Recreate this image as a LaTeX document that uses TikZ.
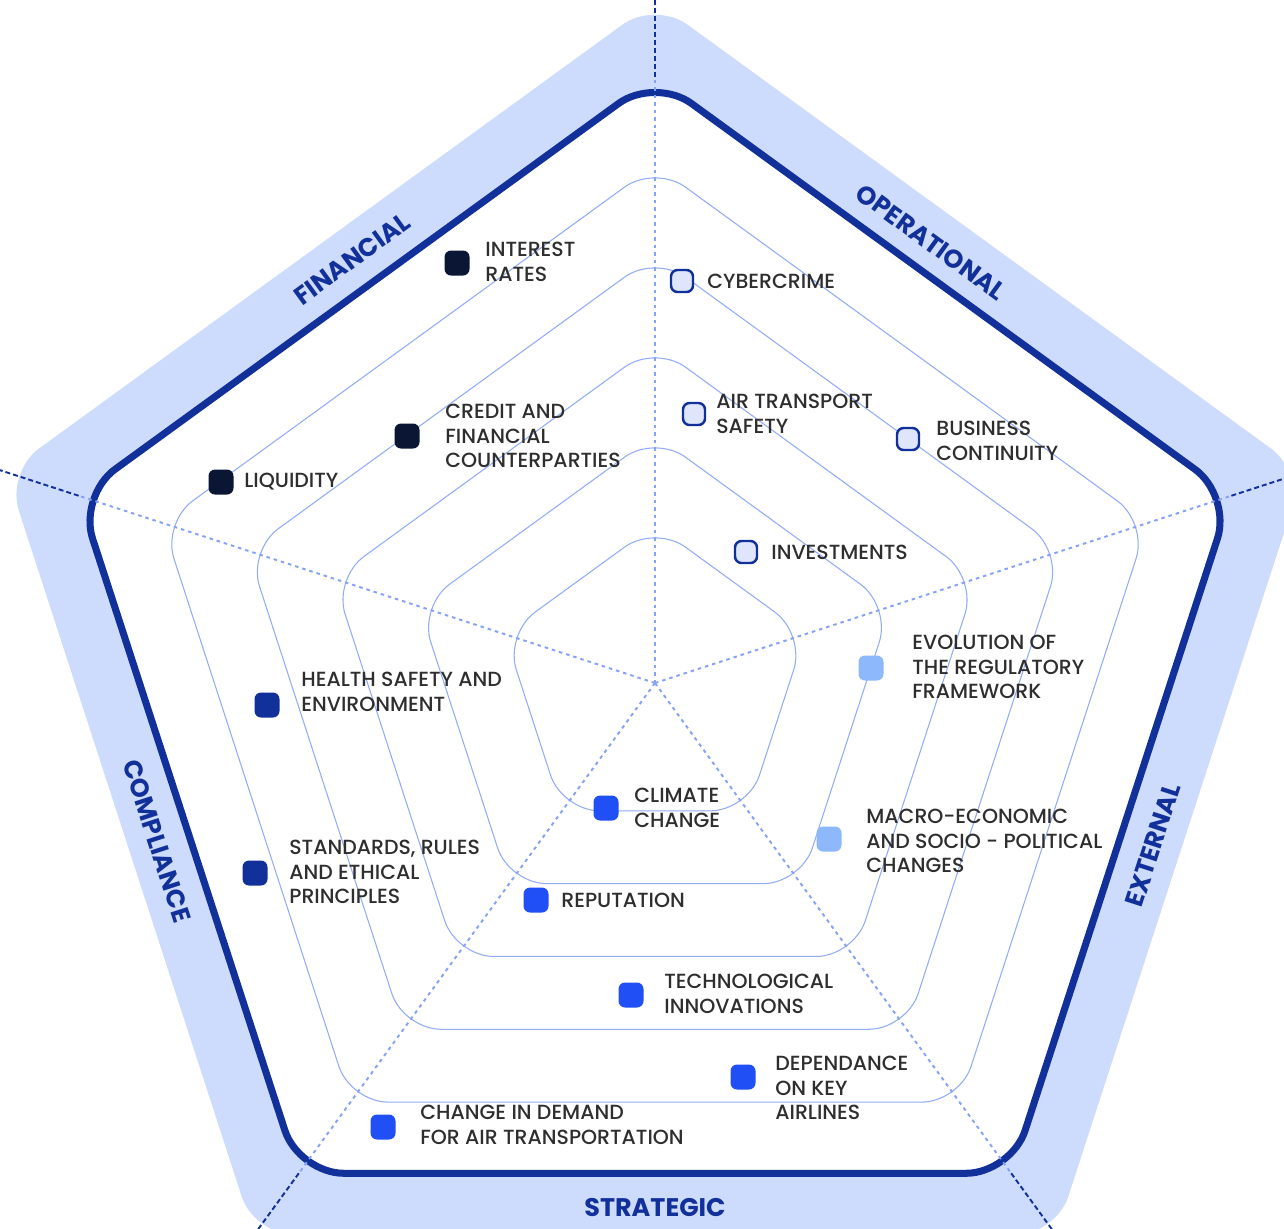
\documentclass[tikz,border=0pt]{standalone}
\usepackage{fontspec}
\setmainfont{Poppins}[UprightFont={* Medium},BoldFont={* Bold}]
\usetikzlibrary{positioning}

\definecolor{bandblue}{HTML}{CDDBFD}
\definecolor{rimblue}{HTML}{12309A}
\definecolor{ringblue}{HTML}{93ACF7}
\definecolor{spokeblue}{HTML}{86A2F4}
\definecolor{txtgrey}{HTML}{2E2E2E}
\definecolor{finnavy}{HTML}{0A1633}
\definecolor{opfill}{HTML}{DFE5FB}
\definecolor{extblue}{HTML}{8DB8FB}
\definecolor{stratblue}{HTML}{1F4FF5}
\definecolor{compblue}{HTML}{12309A}

\tikzset{
  ringline/.style={draw=ringblue, line width=0.6pt, rounded corners=0.75cm},
  spokein/.style={draw=spokeblue, line width=1.1pt, dash pattern=on 0.07cm off 0.08cm},
  spokeout/.style={draw=rimblue, line width=1.1pt, dash pattern=on 0.1cm off 0.06cm},
  riskbox/.style={minimum size=0.5cm, inner sep=0pt, rounded corners=0.13cm},
  opbox/.style={riskbox, minimum size=0.44cm, draw=rimblue, fill=opfill, line width=1.4pt},
  risklabel/.style={anchor=west, inner sep=0pt, align=left, text=txtgrey,
    font=\fontsize{11.65pt}{13.9pt}\selectfont},
  catlabel/.style={text=rimblue, inner sep=0pt,
    font=\fontsize{14.5pt}{16pt}\selectfont\bfseries}
}

\begin{document}
\begin{tikzpicture}[x=0.02cm, y=-0.02cm]
    \useasboundingbox (0,0) rectangle (1284,1228);
    \clip (0,0) rectangle (1284,1228);

    % Band and rim
    \begin{scope}[shift={(655,683)}]
        \fill[bandblue, rounded corners=0.8cm] (-90:682) -- (-18:682) -- (54:682) -- (126:682) -- (198:682) -- cycle;
        \filldraw[fill=white, draw=rimblue, line width=4pt, rounded corners=0.9cm]
            (-90:606) -- (-18:606) -- (54:606) -- (126:606) -- (198:606) -- cycle;

        % Rings
        \foreach \r in {158,248,338,428,518}
            \draw[ringline] (-90:\r) -- (-18:\r) -- (54:\r) -- (126:\r) -- (198:\r) -- cycle;

        % Spokes
        \coordinate (c) at (0,0);
        \foreach \a [count=\i] in {-90,-18,54,126,198} {
            \coordinate (in\i) at (\a:606);
            \coordinate (out\i) at (\a:690);
            \draw[spokein] (c) -- (in\i);
            \draw[spokeout] (in\i) -- (out\i);
        }
    \end{scope}

    % Categories
    \node[catlabel, rotate=36]  (fin)   at (352,259)  {FINANCIAL};
    \node[catlabel, rotate=-36] (oper)  at (931,242)  {OPERATIONAL};
    \node[catlabel, rotate=72]  (ext)   at (1153,845) {EXTERNAL};
    \node[catlabel]             (strat) at (655,1207) {STRATEGIC};
    \node[catlabel, rotate=-72] (comp)  at (157,841)  {COMPLIANCE};

    % Financial
    \node[riskbox, fill=finnavy] (ir) at (457,263) {};
    \node[risklabel] (ir-l) at (485,262) {INTEREST\\RATES};
    \node[riskbox, fill=finnavy] (cfc) at (407,436) {};
    \node[risklabel] (cfc-l) at (445,436) {CREDIT AND\\FINANCIAL\\COUNTERPARTIES};
    \node[riskbox, fill=finnavy] (liq) at (221,482) {};
    \node[risklabel] (liq-l) at (244,482) {LIQUIDITY};

    % Operational
    \node[opbox] (cyb) at (682,281) {};
    \node[risklabel] (cyb-l) at (707,281) {CYBERCRIME};
    \node[opbox] (ats) at (694,414) {};
    \node[risklabel] (ats-l) at (716,414) {AIR TRANSPORT\\SAFETY};
    \node[opbox] (bc) at (908,439) {};
    \node[risklabel] (bc-l) at (936,441) {BUSINESS\\CONTINUITY};
    \node[opbox] (inv) at (746,552) {};
    \node[risklabel] (inv-l) at (771,552) {INVESTMENTS};

    % External
    \node[riskbox, fill=extblue] (reg) at (871,668) {};
    \node[risklabel] (reg-l) at (912,667) {EVOLUTION OF\\THE REGULATORY\\FRAMEWORK};
    \node[riskbox, fill=extblue] (mac) at (829,839) {};
    \node[risklabel] (mac-l) at (866,841) {MACRO-ECONOMIC\\AND SOCIO - POLITICAL\\CHANGES};

    % Compliance
    \node[riskbox, fill=compblue] (hse) at (267,705) {};
    \node[risklabel] (hse-l) at (301,692) {HEALTH SAFETY AND\\ENVIRONMENT};
    \node[riskbox, fill=compblue] (std) at (255,873) {};
    \node[risklabel] (std-l) at (289,872) {STANDARDS, RULES\\AND ETHICAL\\PRINCIPLES};

    % Strategic
    \node[riskbox, fill=stratblue] (clim) at (606,808) {};
    \node[risklabel] (clim-l) at (634,808) {CLIMATE\\CHANGE};
    \node[riskbox, fill=stratblue] (rep) at (536,900) {};
    \node[risklabel] (rep-l) at (561,900) {REPUTATION};
    \node[riskbox, fill=stratblue] (tech) at (631,995) {};
    \node[risklabel] (tech-l) at (664,994) {TECHNOLOGICAL\\INNOVATIONS};
    \node[riskbox, fill=stratblue] (dep) at (743,1077) {};
    \node[risklabel] (dep-l) at (775,1088) {DEPENDANCE\\ON KEY\\AIRLINES};
    \node[riskbox, fill=stratblue] (dem) at (383,1127) {};
    \node[risklabel] (dem-l) at (420,1125) {CHANGE IN DEMAND\\FOR AIR TRANSPORTATION};
\end{tikzpicture}
\end{document}
